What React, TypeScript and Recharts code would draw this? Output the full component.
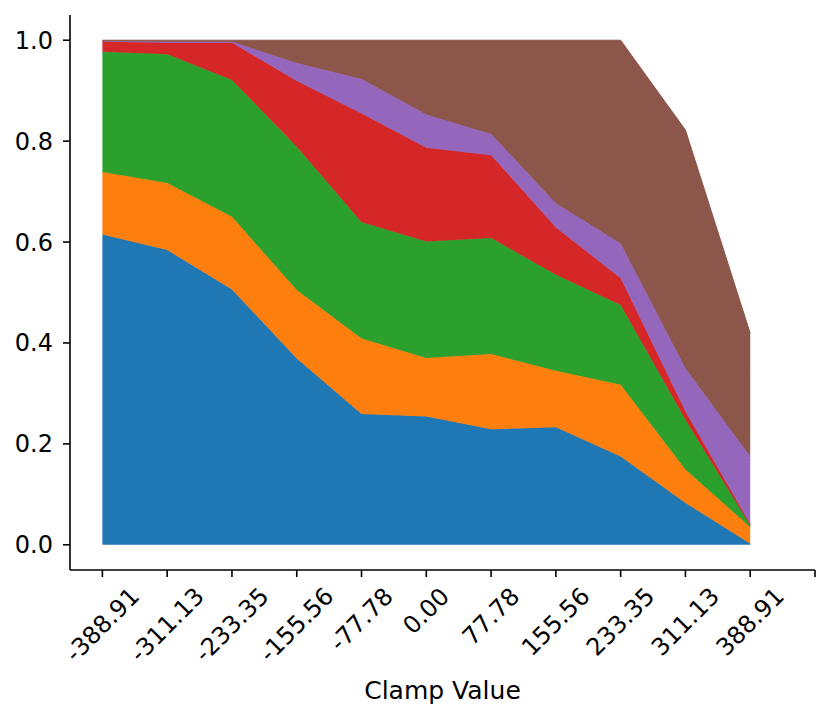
import { AreaChart, Area, XAxis, YAxis } from "recharts";

// category labels for the x positions (index 0..10)
const clampLabels = [
  "-388.91", "-311.13", "-233.35", "-155.56", "-77.78", "0.00",
  "77.78", "155.56", "233.35", "311.13", "388.91",
];

// stacked layer values
const layer0 = [0.615, 0.584, 0.506, 0.369, 0.259, 0.254, 0.229, 0.233, 0.175, 0.083, 0.002];
const layer1 = [0.124, 0.133, 0.144, 0.136, 0.150, 0.116, 0.149, 0.112, 0.142, 0.066, 0.033];
const layer2 = [0.238, 0.255, 0.271, 0.284, 0.230, 0.231, 0.230, 0.190, 0.158, 0.099, 0.003];
const layer3 = [0.020, 0.023, 0.074, 0.130, 0.216, 0.186, 0.164, 0.094, 0.053, 0.016, 0.003];
const layer4 = [0.001, 0.002, 0.002, 0.036, 0.068, 0.066, 0.042, 0.048, 0.069, 0.086, 0.134];
const layer5 = [0.002, 0.003, 0.003, 0.045, 0.077, 0.147, 0.186, 0.323, 0.403, 0.472, 0.244];

const yTicks = [0, 0.2, 0.4, 0.6, 0.8, 1.0];
const xTicks = [0, 1, 2, 3, 4, 5, 6, 7, 8, 9, 10, 11];

const layers = [layer0, layer1, layer2, layer3, layer4, layer5];
const colors = ["#1f77b4", "#ff7f0e", "#2ca02c", "#d62728", "#9467bd", "#8c564b"];

const data = clampLabels.map((label, i) => {
  const row: Record<string, number | string> = { idx: i, label };
  layers.forEach((l, k) => {
    row["s" + k] = l[i];
  });
  return row;
});

const FONT = "DejaVu Sans";
const TICK_FS = 24;

// char widths for DejaVu Sans, in em
function textWidth(s: string, fs: number) {
  let w = 0;
  for (const c of s) {
    if (c === ".") w += 0.318;
    else if (c === "-") w += 0.361;
    else w += 0.636;
  }
  return w * fs;
}

function RotatedTick(props: any) {
  const { x, payload } = props;
  const label = clampLabels[payload.value];
  if (!label) return null;
  const w = textWidth(label, TICK_FS) - 0.12 * TICK_FS;
  const h = 0.73 * TICK_FS;
  const top = 587;
  const cy = top + ((w + h) * 0.7071) / 2;
  return (
    <text
      x={x}
      y={cy}
      textAnchor="middle"
      dominantBaseline="central"
      fontFamily={FONT}
      fontSize={TICK_FS}
      fill="#000"
      transform={`rotate(-45 ${x} ${cy})`}
    >
      {label}
    </text>
  );
}

export default function App() {
  return (
    <div style={{ position: "absolute", left: 0, top: 0, background: "#fff" }}>
      <AreaChart
        width={830}
        height={718}
        data={data}
        margin={{ top: 15, right: 15, bottom: 0, left: 0 }}
      >
        <XAxis
          dataKey="idx"
          type="number"
          domain={[-0.5, 11]}
          ticks={xTicks}
          allowDataOverflow
          height={148}
          tickSize={7}
          tick={<RotatedTick />}
          interval={0}
          axisLine={{ stroke: "#000", strokeWidth: 1.6 }}
          tickLine={{ stroke: "#000", strokeWidth: 1.6 }}
          label={{
            value: "Clamp Value",
            position: "insideBottom",
            offset: 19,
            fill: "#000",
            fontSize: 25,
            fontFamily: FONT,
          }}
        />
        <YAxis
          type="number"
          domain={[-0.05, 1.05]}
          ticks={yTicks}
          allowDataOverflow
          width={70}
          tickSize={7}
          tickMargin={10}
          tickFormatter={(v: number) => v.toFixed(1)}
          tick={{ fill: "#000", fontSize: TICK_FS, fontFamily: FONT }}
          axisLine={{ stroke: "#000", strokeWidth: 1.6 }}
          tickLine={{ stroke: "#000", strokeWidth: 1.6 }}
        />
        {layers.map((_, k) => (
          <Area
            key={k}
            type="linear"
            dataKey={"s" + k}
            stackId="1"
            stroke={colors[k]}
            strokeWidth={1}
            fill={colors[k]}
            fillOpacity={1}
            dot={false}
            activeDot={false}
            isAnimationActive={false}
          />
        ))}
      </AreaChart>
    </div>
  );
}
